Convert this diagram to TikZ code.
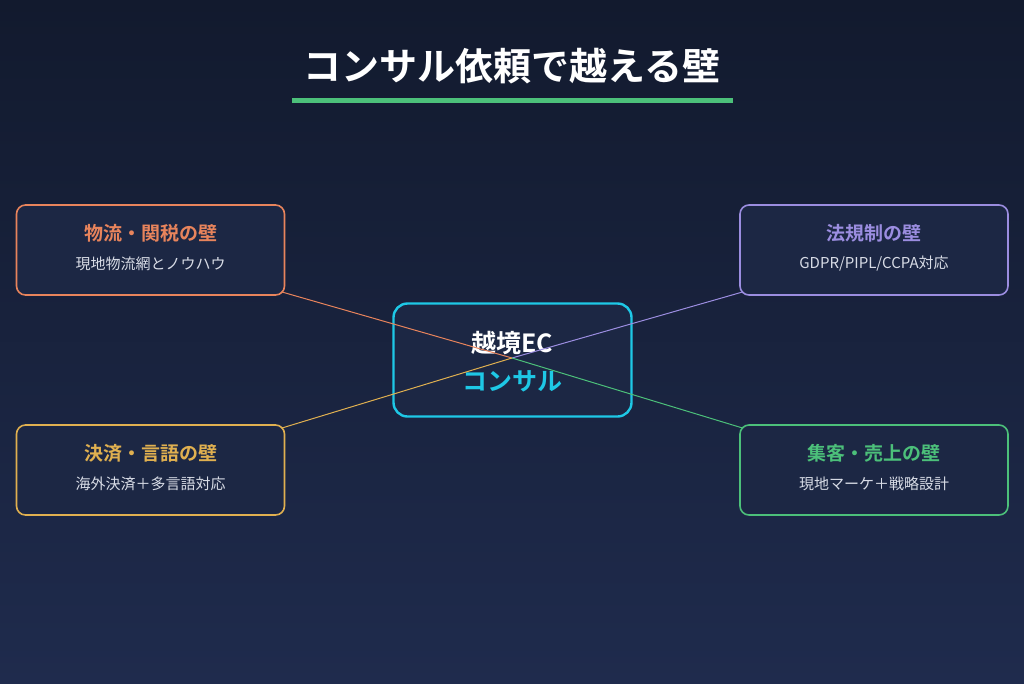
\documentclass[tikz,border=0pt]{standalone}
\usepackage{fontspec}
\newfontfamily\jp{Noto Sans CJK JP}
\newfontfamily\jpb{Noto Sans CJK JP Bold}
\usetikzlibrary{positioning}
\definecolor{bgtop}{HTML}{121A2E}
\definecolor{bgbot}{HTML}{1F2B4D}
\definecolor{boxfill}{HTML}{1C2744}
\definecolor{cor}{HTML}{E8845C}
\definecolor{cpu}{HTML}{9B8DE0}
\definecolor{cam}{HTML}{E0B050}
\definecolor{cgr}{HTML}{4CC07A}
\definecolor{ccy}{HTML}{1EC8E6}
\definecolor{sub}{HTML}{D8DCE6}
\begin{document}
\begin{tikzpicture}[x=1pt,y=-1pt,
  card/.style={draw=#1,line width=1.6pt,rounded corners=9pt,fill=boxfill,minimum width=268pt,minimum height=90pt},
  ttl/.style={text=#1,font=\jpb\fontsize{19}{22}\selectfont},
  st/.style={text=sub,font=\jp\fontsize{15}{18}\selectfont},
  conn/.style={draw=#1,line width=1pt}]
\shade[top color=bgtop,bottom color=bgbot] (0,0) rectangle (1024,683);
\useasboundingbox (0,0) rectangle (1024,683);
\node[text=white,font=\jpb\fontsize{38}{44}\selectfont] (title) at (512,66) {コンサル依頼で越える壁};
\draw[cgr,line width=5pt] (292,100) -- (733,100);
\node[card=cor] (b1) at (150.5,250) {};
\node[card=cpu] (b2) at (874,250) {};
\node[card=cam] (b3) at (150.5,470) {};
\node[card=cgr] (b4) at (874,470) {};
\node[draw=ccy,line width=2.4pt,rounded corners=14pt,fill=boxfill,minimum width=238pt,minimum height=113pt] (c) at (512.5,360) {};
\node[text=white,font=\jpb\fontsize{25}{28}\selectfont] (c1) at (512,343) {越境EC};
\node[text=ccy,font=\jpb\fontsize{25}{28}\selectfont] (c2) at (512,381) {コンサル};
\coordinate (m) at (512,358);
\draw[conn=cor] (b1.south east) ++(-4,-4) -- (m);
\draw[conn=cpu] (b2.south west) ++(4,-4) -- (m);
\draw[conn=cam] (b3.north east) ++(-4,4) -- (m);
\draw[conn=cgr] (b4.north west) ++(4,4) -- (m);
\node[ttl=cor] at (150.5,233) {物流・関税の壁};
\node[st] at (150.5,264) {現地物流網とノウハウ};
\node[ttl=cpu] at (874,233) {法規制の壁};
\node[st] at (874,264) {GDPR/PIPL/CCPA対応};
\node[ttl=cam] at (150.5,453) {決済・言語の壁};
\node[st] at (150.5,484) {海外決済＋多言語対応};
\node[ttl=cgr] at (874,453) {集客・売上の壁};
\node[st] at (874,484) {現地マーケ＋戦略設計};
\end{tikzpicture}
\end{document}
